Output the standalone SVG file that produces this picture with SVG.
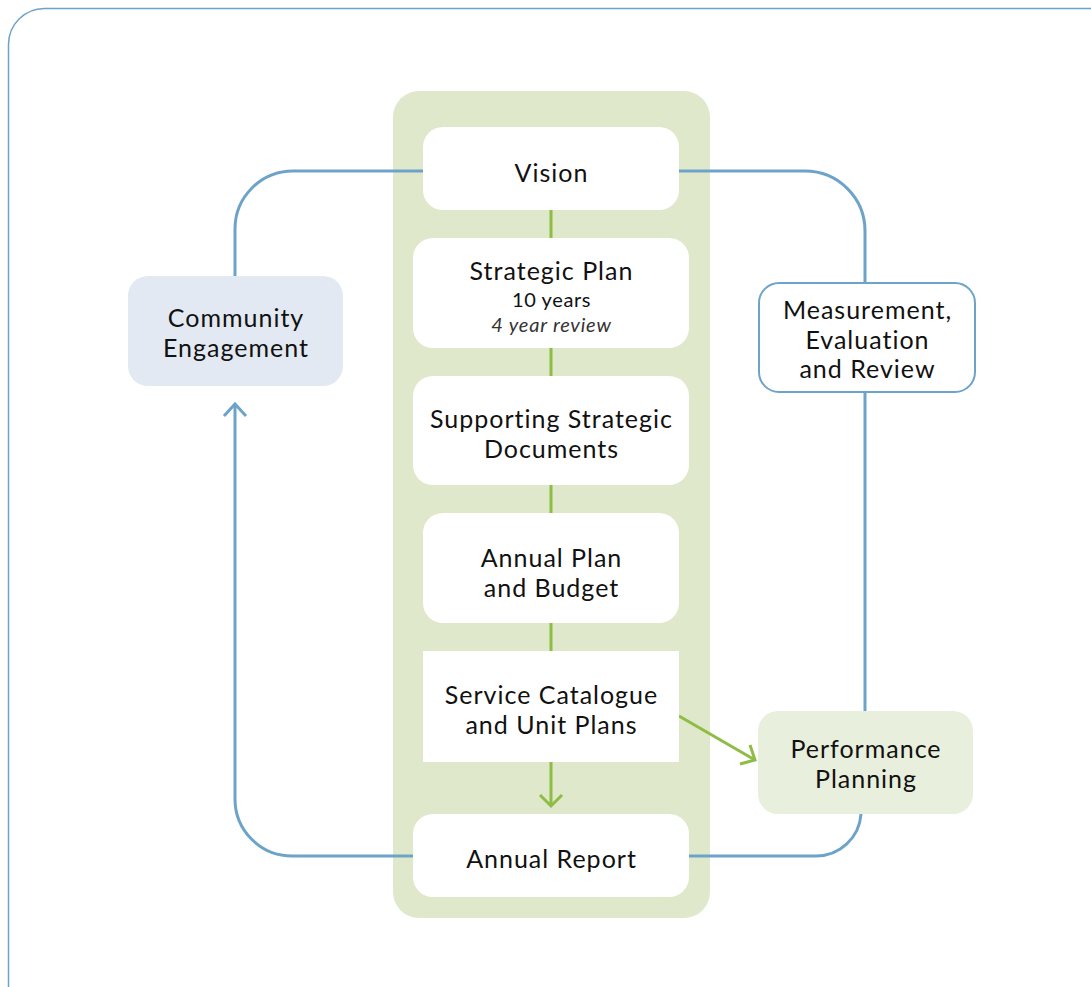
<svg xmlns="http://www.w3.org/2000/svg" width="1091" height="987" viewBox="0 0 1091 987">
<style>
text{font-family:Lato,"Open Sans","Liberation Sans",sans-serif;font-size:25px;letter-spacing:1px;fill:#111;text-anchor:middle}
.sm{font-size:20px;letter-spacing:0.6px}
.it{font-size:20px;font-style:italic;letter-spacing:0.8px;fill:#333}
.blue{fill:none;stroke:#6da3c9;stroke-width:3}
.green{fill:none;stroke:#8fbc44;stroke-width:3}
.box{fill:#fff}
</style>
<rect width="1091" height="987" fill="#fff"/>
<rect x="8.5" y="8.5" width="1120" height="1020" rx="36" fill="none" stroke="#6da3c9" stroke-width="1.5"/>
<g id="column"><rect x="393" y="91" width="317" height="827" rx="26" fill="#dfe8cb"/></g>
<g id="connectors">
<path class="blue" d="M423 171 H293 A58 58 0 0 0 235 229 V276"/>
<path class="blue" d="M679 171 H805 A60 60 0 0 1 865 231 V283"/>
<path class="blue" d="M865 392 V711"/>
<path class="blue" d="M861 814 A45 45 0 0 1 816 856 H689"/>
<path class="blue" d="M413 856 H292 A57 57 0 0 1 235 799 V405"/>
<path class="blue" d="M224 416 L235 404 L246 416"/>
<path class="green" d="M551 210 V238 M551 348 V376 M551 485 V513 M551 623 V651 M551 762 V806"/>
<path class="green" d="M540 795 L551 806 L562 795"/>
<path class="green" d="M679 716 L755 760"/>
<path class="green" d="M740 764 L755 760 L750 745"/>
</g>
<g id="community"><rect x="128" y="276" width="215" height="110" rx="20" fill="#e3e9f2"/><text x="236" y="326.5">Community</text><text x="236" y="356.5">Engagement</text></g>
<g id="vision"><rect class="box" x="423" y="127" width="256" height="83" rx="20"/><text x="551.5" y="182">Vision</text></g>
<g id="strategic"><rect class="box" x="413" y="238" width="276" height="110" rx="20"/><text x="551.5" y="280">Strategic Plan</text><text class="sm" x="551.5" y="307">10 years</text><text class="it" x="551.5" y="332">4 year review</text></g>
<g id="supporting"><rect class="box" x="413" y="376" width="276" height="109" rx="20"/><text x="551.5" y="428">Supporting Strategic</text><text x="551.5" y="458">Documents</text></g>
<g id="annualplan"><rect class="box" x="423" y="513" width="256" height="110" rx="20"/><text x="551.5" y="567">Annual Plan</text><text x="551.5" y="597">and Budget</text></g>
<g id="service"><rect class="box" x="423" y="651" width="256" height="111"/><text x="551.5" y="704">Service Catalogue</text><text x="551.5" y="734">and Unit Plans</text></g>
<g id="report"><rect class="box" x="413" y="814" width="276" height="83" rx="20"/><text x="551.5" y="868">Annual Report</text></g>
<g id="measurement"><rect x="759" y="283" width="216" height="109" rx="20" fill="#fff" stroke="#6da3c9" stroke-width="2"/><text x="867.5" y="319">Measurement,</text><text x="867.5" y="348.5">Evaluation</text><text x="867.5" y="378">and Review</text></g>
<g id="performance"><rect x="758" y="711" width="215" height="103" rx="20" fill="#e8efdc"/><text x="866" y="758">Performance</text><text x="866" y="788">Planning</text></g>
</svg>
